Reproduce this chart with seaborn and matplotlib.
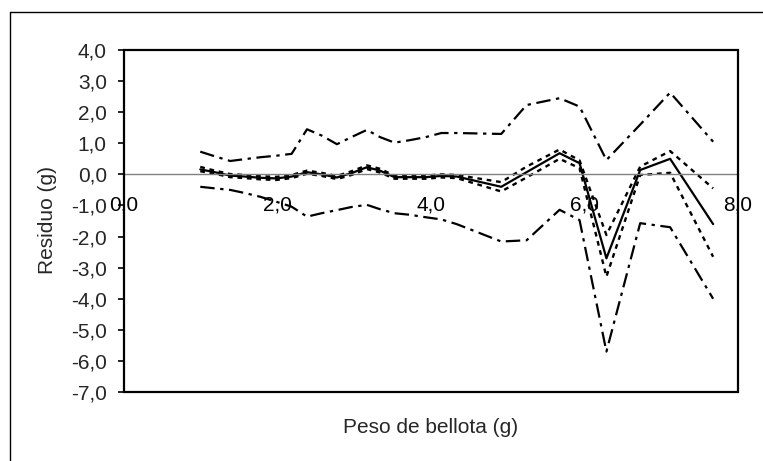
import matplotlib
matplotlib.use("Agg")
import matplotlib.pyplot as plt
from matplotlib.lines import Line2D
from matplotlib.patches import Rectangle
from matplotlib.ticker import FuncFormatter
import seaborn as sns
import pandas as pd

# ---- data ----
peso = [1.00, 1.19, 1.39, 1.58, 1.78, 1.99, 2.19, 2.39, 2.58, 2.78, 2.97, 3.17,
        3.34, 3.53, 3.73, 3.94, 4.14, 4.34, 4.92, 5.25, 5.68, 5.94, 6.29, 6.73,
        7.12, 7.68]
residuo = [0.16, 0.07, -0.04, -0.07, -0.11, -0.13, -0.07, 0.07, 0.00, -0.10, 0.04, 0.23,
           0.12, -0.09, -0.09, -0.09, -0.05, -0.07, -0.40, 0.07, 0.68, 0.36, -2.70, 0.14,
           0.50, -1.60]
punt_sup = [0.24, 0.12, 0.01, -0.02, -0.06, -0.08, -0.02, 0.12, 0.05, -0.05, 0.10, 0.29,
            0.18, -0.04, -0.04, -0.04, 0.00, -0.02, -0.25, 0.25, 0.80, 0.45, -1.95, 0.25,
            0.75, -0.45]
punt_inf = [0.10, 0.02, -0.09, -0.12, -0.16, -0.18, -0.12, 0.02, -0.05, -0.15, -0.02, 0.17,
            0.06, -0.14, -0.14, -0.14, -0.10, -0.12, -0.55, -0.10, 0.50, 0.20, -3.29, -0.02,
            0.05, -2.65]
banda_sup = [0.73, 0.58, 0.43, 0.49, 0.55, 0.60, 0.66, 1.45, 1.25, 0.97, 1.20, 1.43,
             1.20, 1.02, 1.10, 1.20, 1.33, 1.33, 1.30, 2.23, 2.45, 2.18, 0.46, 1.60,
             2.63, 1.05]
banda_inf = [-0.40, -0.45, -0.50, -0.60, -0.72, -0.88, -1.04, -1.36, -1.25, -1.15, -1.05, -0.98,
             -1.12, -1.25, -1.30, -1.38, -1.45, -1.60, -2.16, -2.12, -1.14, -1.47, -5.70, -1.57,
             -1.70, -4.00]

y_ticks = [4.0, 3.0, 2.0, 1.0, 0.0, -1.0, -2.0, -3.0, -4.0, -5.0, -6.0, -7.0]
x_ticks = [0.0, 2.0, 4.0, 6.0, 8.0]
x_label = "Peso de bellota (g)"
y_label = "Residuo (g)"

df = pd.DataFrame({"peso": peso, "residuo": residuo, "punt_sup": punt_sup,
                   "punt_inf": punt_inf, "banda_sup": banda_sup, "banda_inf": banda_inf})

sns.set_theme(style="white")
plt.rcParams["font.family"] = ["Liberation Sans", "DejaVu Sans"]
FS = 15

fig = plt.figure(figsize=(7.63, 4.61), dpi=100)
ax = fig.add_axes([123.5 / 763, 1 - 392 / 461, (737.7 - 123.5) / 763, (392 - 50) / 461])

dashdot = (0, (6.5, 2.5, 1.5, 2.5))
dotted = (0, (2, 2))
common = dict(ax=ax, x="peso", color="black", sort=False, estimator=None, legend=False)
sns.lineplot(data=df, y="banda_sup", linestyle=dashdot, lw=1.6, **common)
sns.lineplot(data=df, y="banda_inf", linestyle=dashdot, lw=1.6, **common)
sns.lineplot(data=df, y="punt_sup", linestyle=dotted, lw=1.7, **common)
sns.lineplot(data=df, y="punt_inf", linestyle=dotted, lw=1.7, **common)
sns.lineplot(data=df, y="residuo", linestyle="-", lw=1.6, **common)

ax.set_xlim(0, 8)
ax.set_ylim(-7, 4)
ax.set_xticks(x_ticks)
ax.set_yticks(y_ticks)
fmt = FuncFormatter(lambda v, p: f"{v:.1f}".replace(".", ","))
ax.xaxis.set_major_formatter(fmt)
ax.yaxis.set_major_formatter(fmt)

for s in ["top", "right", "left"]:
    ax.spines[s].set_visible(False)
ax.spines["bottom"].set_position(("data", 0))
ax.spines["bottom"].set_color("#808080")
ax.spines["bottom"].set_linewidth(1.0)
ax.set_zorder(1)

ax.tick_params(axis="x", length=0, pad=15, labelsize=FS, colors="black")
ax.tick_params(axis="y", direction="out", length=4, width=1.2, color="black",
               pad=8, labelsize=FS, left=True)

ax.add_patch(Rectangle((0, 0), 1, 1, transform=ax.transAxes, fill=False,
                       edgecolor="black", lw=1.6, clip_on=False, zorder=5))

ax.set_xlabel("")
ax.set_ylabel("")
fig.text(430.6 / 763, 1 - 427 / 461, x_label, ha="center", va="center", fontsize=FS)
fig.text(48 / 763, 1 - 220 / 461, y_label, ha="center", va="center", rotation=90, fontsize=FS)

# outer chart-area border (top and left visible)
fig.add_artist(Line2D([10 / 763, 1.0], [1 - 12 / 461, 1 - 12 / 461], color="black", lw=1.0,
                      transform=fig.transFigure))
fig.add_artist(Line2D([10 / 763, 10 / 763], [1 - 12 / 461, 0.0], color="black", lw=1.0,
                      transform=fig.transFigure))

fig.savefig("out.png", dpi=100)
